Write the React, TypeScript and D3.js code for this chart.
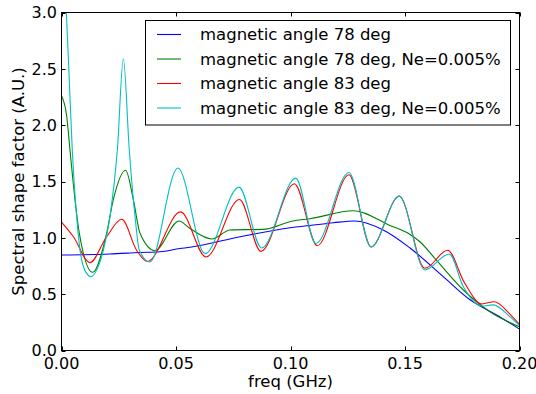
import React, { useEffect, useRef } from "react";
import * as d3 from "d3";

// [freq (GHz), spectral shape factor]
const angle78: [number, number][] = [
  [0, 0.848], [0.021, 0.857], [0.0343, 0.87], [0.043, 0.877], [0.0517, 0.905],
  [0.0561, 0.916], [0.078, 1.01], [0.0998, 1.09], [0.1085, 1.11], [0.1187, 1.134],
  [0.128, 1.15], [0.1405, 1.07], [0.1522, 0.91], [0.1667, 0.655], [0.1784, 0.45],
  [0.19, 0.315], [0.2, 0.19],
];

const angle78Ne: [number, number][] = [
  [0, 2.26], [0.0023, 2.075], [0.0037, 1.78], [0.0059, 1.336], [0.0078, 1.04],
  [0.0136, 0.694], [0.0197, 1.04], [0.0226, 1.336], [0.028, 1.6], [0.0314, 1.336],
  [0.0343, 1.04], [0.0408, 0.886], [0.0513, 1.15], [0.056, 1.085], [0.0656, 0.99],
  [0.0736, 1.07], [0.088, 1.075], [0.101, 1.15], [0.1085, 1.17], [0.1274, 1.24],
  [0.1434, 1.11], [0.1522, 1.03], [0.1565, 0.965], [0.1638, 0.8], [0.1755, 0.537],
  [0.1871, 0.344], [0.2, 0.21],
];

const angle83: [number, number][] = [
  [0, 1.14], [0.0052, 1.01], [0.0124, 0.78], [0.0197, 1.01], [0.0263, 1.165],
  [0.0328, 0.89], [0.0375, 0.79], [0.052, 1.23], [0.0631, 0.83], [0.0777, 1.34],
  [0.0871, 0.88], [0.1017, 1.48], [0.1117, 0.93], [0.1255, 1.56], [0.1352, 0.92],
  [0.1475, 1.37], [0.1587, 0.73], [0.1686, 0.89], [0.176, 0.6], [0.1835, 0.413],
  [0.189, 0.433], [0.1955, 0.33], [0.2, 0.23],
];

const angle83Ne: [number, number][] = [
  [0, 3.7], [0.002, 3.05], [0.0035, 2.35], [0.0047, 1.78], [0.0066, 1.19],
  [0.0081, 0.89], [0.0105, 0.7], [0.0129, 0.655], [0.0155, 0.72], [0.0183, 0.89],
  [0.0212, 1.19], [0.0244, 1.78], [0.027, 2.59], [0.0296, 1.78], [0.0321, 1.19],
  [0.034, 0.89], [0.0386, 0.785], [0.0508, 1.62], [0.0627, 0.86], [0.0775, 1.45],
  [0.0874, 0.91], [0.1023, 1.53], [0.1111, 0.95], [0.1255, 1.58], [0.1352, 0.92],
  [0.1475, 1.37], [0.1587, 0.715], [0.1693, 0.857], [0.1755, 0.566], [0.1835, 0.395],
  [0.1885, 0.405], [0.1958, 0.3], [0.2, 0.22],
];

const seriesNames = [
  "magnetic angle 78 deg",
  "magnetic angle 78 deg, Ne=0.005%",
  "magnetic angle 83 deg",
  "magnetic angle 83 deg, Ne=0.005%",
];
const seriesData = [angle78, angle78Ne, angle83, angle83Ne];
const colors = ["#0000ff", "#008000", "#ff0000", "#00bfbf"];

const xTicks = [0, 0.05, 0.1, 0.15, 0.2];
const yTicks = [0, 0.5, 1.0, 1.5, 2.0, 2.5, 3.0];

const width = 536;
const height = 394;
const font = "DejaVu Sans, sans-serif";

export default function App() {
  const svgRef = useRef<SVGSVGElement>(null);

  useEffect(() => {
    const svg = d3.select(svgRef.current);
    svg.selectAll("*").remove();

    const left = 61.5, right = 519.5, top = 12.5, bottom = 350.5;
    const x = d3.scaleLinear().domain([0, 0.2]).range([left, right]);
    const y = d3.scaleLinear().domain([0, 3]).range([bottom, top]);

    svg.append("rect").attr("width", width).attr("height", height).attr("fill", "#fff");

    svg
      .append("clipPath")
      .attr("id", "plot-clip")
      .append("rect")
      .attr("x", left)
      .attr("y", top)
      .attr("width", right - left)
      .attr("height", bottom - top);

    const line = d3
      .line<[number, number]>()
      .x((d) => x(d[0]))
      .y((d) => y(d[1]))
      .curve(d3.curveMonotoneX);

    svg
      .append("g")
      .attr("clip-path", "url(#plot-clip)")
      .selectAll("path")
      .data(seriesData)
      .enter()
      .append("path")
      .attr("d", (d) => line(d))
      .attr("fill", "none")
      .attr("stroke", (d, i) => colors[i])
      .attr("stroke-width", 1.1);

    // frame
    svg
      .append("rect")
      .attr("x", left)
      .attr("y", top)
      .attr("width", right - left)
      .attr("height", bottom - top)
      .attr("fill", "none")
      .attr("stroke", "#000")
      .attr("stroke-width", 1);

    // inward ticks on all sides
    const tickLen = 4;
    const ticks = svg.append("g").attr("stroke", "#000").attr("stroke-width", 1);
    xTicks.forEach((t) => {
      const px = Math.round(x(t)) + 0.5;
      ticks.append("line").attr("x1", px).attr("x2", px).attr("y1", bottom).attr("y2", bottom - tickLen);
      ticks.append("line").attr("x1", px).attr("x2", px).attr("y1", top).attr("y2", top + tickLen);
    });
    yTicks.forEach((t) => {
      const py = Math.round(y(t)) + 0.5;
      ticks.append("line").attr("x1", left).attr("x2", left + tickLen).attr("y1", py).attr("y2", py);
      ticks.append("line").attr("x1", right).attr("x2", right - tickLen).attr("y1", py).attr("y2", py);
    });

    svg
      .append("g")
      .selectAll("text")
      .data(xTicks)
      .enter()
      .append("text")
      .attr("x", (d) => x(d))
      .attr("y", 368.5)
      .attr("text-anchor", "middle")
      .attr("font-family", font)
      .attr("font-size", 16)
      .text((d) => d3.format(".2f")(d));

    svg
      .append("g")
      .selectAll("text")
      .data(yTicks)
      .enter()
      .append("text")
      .attr("x", 57)
      .attr("y", (d) => y(d))
      .attr("dy", "0.36em")
      .attr("text-anchor", "end")
      .attr("font-family", font)
      .attr("font-size", 16)
      .text((d) => d3.format(".1f")(d));

    svg
      .append("text")
      .attr("x", (left + right) / 2)
      .attr("y", 387)
      .attr("text-anchor", "middle")
      .attr("font-family", font)
      .attr("font-size", 16.5)
      .text("freq (GHz)");

    svg
      .append("text")
      .attr("transform", `translate(24,${(top + bottom) / 2}) rotate(-90)`)
      .attr("text-anchor", "middle")
      .attr("font-family", font)
      .attr("font-size", 16.5)
      .text("Spectral shape factor (A.U.)");

    // legend
    const legend = svg.append("g");
    legend
      .append("rect")
      .attr("x", 145.5)
      .attr("y", 20.5)
      .attr("width", 365)
      .attr("height", 104.5)
      .attr("fill", "#fff")
      .attr("stroke", "#000")
      .attr("stroke-width", 1);

    const rows = legend
      .selectAll(".legend-row")
      .data(seriesNames)
      .enter()
      .append("g")
      .attr("class", "legend-row")
      .attr("transform", (d, i) => `translate(0,${34.5 + i * 24.5})`);

    rows
      .append("line")
      .attr("x1", 157)
      .attr("x2", 181)
      .attr("stroke", (d, i) => colors[i])
      .attr("stroke-width", 1.1);

    rows
      .append("text")
      .attr("x", 200)
      .attr("dy", "0.36em")
      .attr("font-family", font)
      .attr("font-size", 16.5)
      .text((d) => d);
  }, []);

  return (
    <svg
      ref={svgRef}
      width={width}
      height={height}
      style={{ position: "absolute", left: 0, top: 0 }}
    ></svg>
  );
}
